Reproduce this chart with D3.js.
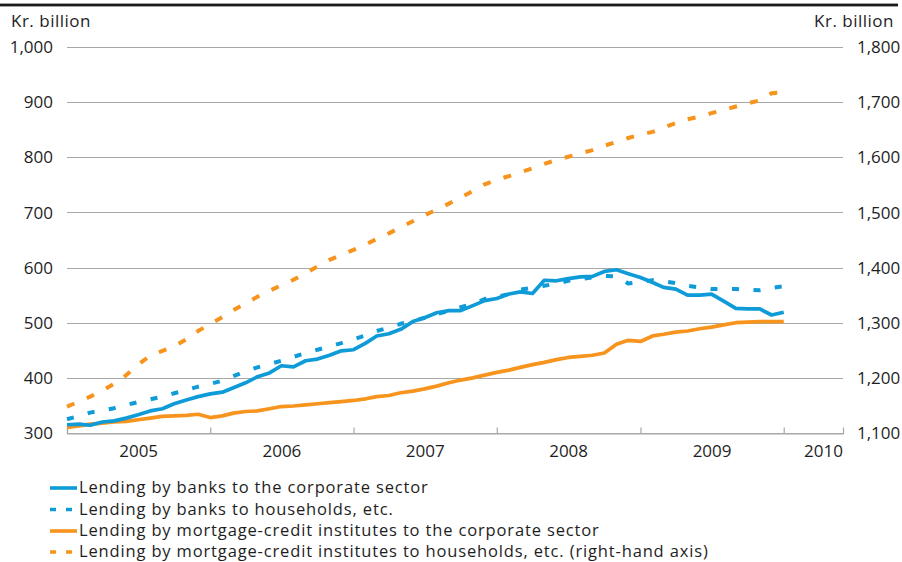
<!DOCTYPE html>
<html>
<head>
<meta charset="utf-8">
<script src="https://cdn.jsdelivr.net/npm/d3@7"></script>
<style>
  html, body { margin: 0; padding: 0; background: #fff; }
  svg { display: block; font-family: "Open Sans", "Noto Sans", sans-serif; }
  text { fill: #1e1e1e; }
</style>
</head>
<body>
<svg id="chart" width="902" height="562"></svg>
<script>
// Monthly lending, January 2005 – January 2010 (kr. billion)
const startYear = 2005, startMonth = 0;

const bankCorporate = [
  315, 316, 314, 320, 322, 327, 333, 340, 344, 353, 360, 366,
  371, 374, 382, 391, 402, 409, 422, 420, 431, 434, 441, 449,
  451, 463, 476, 480, 488, 502, 509, 518, 522, 522, 531, 540,
  544, 552, 556, 553, 577, 576, 580, 583, 584, 593, 596, 589,
  582, 573, 564, 561, 550, 550, 552, 539, 526, 525, 525, 514,
  519
];

const bankHouseholds = [
  325, 331, 337, 341, 345, 351, 356, 361, 366, 372, 378, 384,
  389, 395, 403, 412, 419, 425, 431, 438, 445, 451, 457, 463,
  470, 477, 485, 491, 498, 503, 509, 516, 521, 528, 534, 543,
  547, 552, 560, 563, 567, 571, 576, 579, 582, 585, 584, 571,
  574, 577, 575, 572, 567, 564, 561, 561, 561, 560, 559, 563,
  566
];

const mortgageCorporate = [
  310, 313, 316, 318, 320, 321, 324, 327, 330, 331, 332, 334,
  328, 331, 336, 339, 340, 344, 348, 349, 351, 353, 355, 357,
  359, 362, 366, 368, 373, 376, 380, 385, 391, 396, 400, 405,
  410, 414, 419, 424, 428, 433, 437, 439, 441, 445, 461, 468,
  466, 476, 479, 483, 485, 489, 492, 496, 500, 501, 502, 502,
  502
];

// right-hand axis
const mortgageHouseholds = [
  1148, 1157, 1166, 1177, 1189, 1205, 1224, 1240, 1249, 1257, 1270, 1285,
  1298, 1310, 1323, 1335, 1347, 1358, 1368, 1378, 1390, 1402, 1414, 1423,
  1432, 1442, 1452, 1462, 1473, 1484, 1495, 1505, 1516, 1527, 1539, 1551,
  1559, 1566, 1573, 1580, 1588, 1595, 1601, 1607, 1613, 1621, 1628, 1635,
  1641, 1646, 1654, 1662, 1669, 1674, 1680, 1686, 1692, 1698, 1703, 1716,
  1718
];

const yearLabels = ["2005", "2006", "2007", "2008", "2009", "2010"];
const leftTicks = [300, 400, 500, 600, 700, 800, 900, 1000];
const rightTicks = [1100, 1200, 1300, 1400, 1500, 1600, 1700, 1800];
const unitLabel = "Kr. billion";

const BLUE = "#0e9bd8", ORANGE = "#f7941d", GRID = "#a8a8a8";

const legendItems = [
  { label: "Lending by banks to the corporate sector", color: BLUE, dashed: false },
  { label: "Lending by banks to households, etc.", color: BLUE, dashed: true },
  { label: "Lending by mortgage-credit institutes to the corporate sector", color: ORANGE, dashed: false },
  { label: "Lending by mortgage-credit institutes to households, etc. (right-hand axis)", color: ORANGE, dashed: true }
];

const AXIS_FONT = 17, LEGEND_FONT = 16.5;

const svg = d3.select("#chart");

// top rule
svg.append("rect").attr("x", 0).attr("y", 3.6).attr("width", 898).attr("height", 2.8).attr("fill", "#1a1a1a");

const x0 = 67, x1 = 843, yTop = 47, yBottom = 433;

const x = d3.scaleTime()
  .domain([new Date(2005, 0, 1), new Date(2010, 5, 1)])
  .range([x0, x1]);
const yL = d3.scaleLinear().domain([300, 1000]).range([yBottom, yTop]);
const yR = d3.scaleLinear().domain([1100, 1800]).range([yBottom, yTop]);

const dates = bankCorporate.map((_, i) => new Date(startYear, startMonth + i, 1));

// gridlines
svg.append("g").selectAll("line").data(leftTicks).join("line")
  .attr("x1", x0).attr("x2", x1)
  .attr("y1", d => Math.round(yL(d)) + 0.5).attr("y2", d => Math.round(yL(d)) + 0.5)
  .attr("stroke", GRID).attr("stroke-width", 1.2);

// left labels
svg.append("g").selectAll("text").data(leftTicks).join("text")
  .attr("x", 53).attr("y", d => yL(d)).attr("dy", "0.36em")
  .attr("text-anchor", "end").attr("font-size", AXIS_FONT)
  .text(d => d3.format(",")(d));

// right labels
svg.append("g").selectAll("text").data(rightTicks).join("text")
  .attr("x", 857).attr("y", d => yR(d)).attr("dy", "0.36em")
  .attr("text-anchor", "start").attr("font-size", AXIS_FONT)
  .text(d => d3.format(",")(d));

svg.append("text").attr("x", 11).attr("y", 27).attr("font-size", AXIS_FONT)
  .attr("letter-spacing", 0.5).text(unitLabel);
svg.append("text").attr("x", 894).attr("y", 27).attr("text-anchor", "end").attr("font-size", AXIS_FONT)
  .attr("letter-spacing", 0.5).text(unitLabel);

// x axis: year boundaries with upward ticks
const yearStarts = yearLabels.map(y => new Date(+y, 0, 1));
const xAxis = d3.axisBottom(x).tickValues(yearStarts).tickSize(-6).tickFormat("");
const gx = svg.append("g").attr("transform", `translate(0,${Math.round(yBottom) + 0.5})`).call(xAxis);
gx.select(".domain").attr("stroke", GRID).attr("stroke-width", 1.2);
gx.selectAll(".tick line").attr("stroke", GRID).attr("stroke-width", 1.2);

// year labels centred in each year's band (last one kept inside the axis)
const bandEnd = d => x(new Date(+d + 1, 0, 1));
svg.append("g").selectAll("text").data(yearLabels).join("text")
  .attr("font-size", AXIS_FONT)
  .attr("y", 457)
  .attr("x", d => bandEnd(d) > x1 ? x1 : (x(new Date(+d, 0, 1)) + bandEnd(d)) / 2)
  .attr("text-anchor", d => bandEnd(d) > x1 ? "end" : "middle")
  .text(d => d);

// series
const lineL = d3.line().x((d, i) => x(dates[i])).y(d => yL(d));
const lineR = d3.line().x((d, i) => x(dates[i])).y(d => yR(d));

const plot = svg.append("g").attr("fill", "none").attr("stroke-linejoin", "round");

plot.append("path").datum(mortgageHouseholds).attr("d", lineR)
  .attr("stroke", ORANGE).attr("stroke-width", 4).attr("stroke-dasharray", "8,13.5");
plot.append("path").datum(bankHouseholds).attr("d", lineL)
  .attr("stroke", BLUE).attr("stroke-width", 4).attr("stroke-dasharray", "7,14.5");
plot.append("path").datum(mortgageCorporate).attr("d", lineL)
  .attr("stroke", ORANGE).attr("stroke-width", 3.7);
plot.append("path").datum(bankCorporate).attr("d", lineL)
  .attr("stroke", BLUE).attr("stroke-width", 3.7);

// legend
const legend = svg.append("g");
const rowY = [488, 509.5, 531, 552];
legendItems.forEach((item, i) => {
  const g = legend.append("g").attr("transform", `translate(0,${rowY[i]})`);
  g.append("line").attr("x1", 50).attr("x2", item.dashed ? 72 : 77).attr("y1", 0).attr("y2", 0)
    .attr("stroke", item.color).attr("stroke-width", 3.6)
    .attr("stroke-dasharray", item.dashed ? "6,10" : null);
  g.append("text").attr("x", 79).attr("y", 0).attr("dy", "0.33em")
    .attr("font-size", LEGEND_FONT).attr("letter-spacing", 0.85).text(item.label);
});
</script>
</body>
</html>
